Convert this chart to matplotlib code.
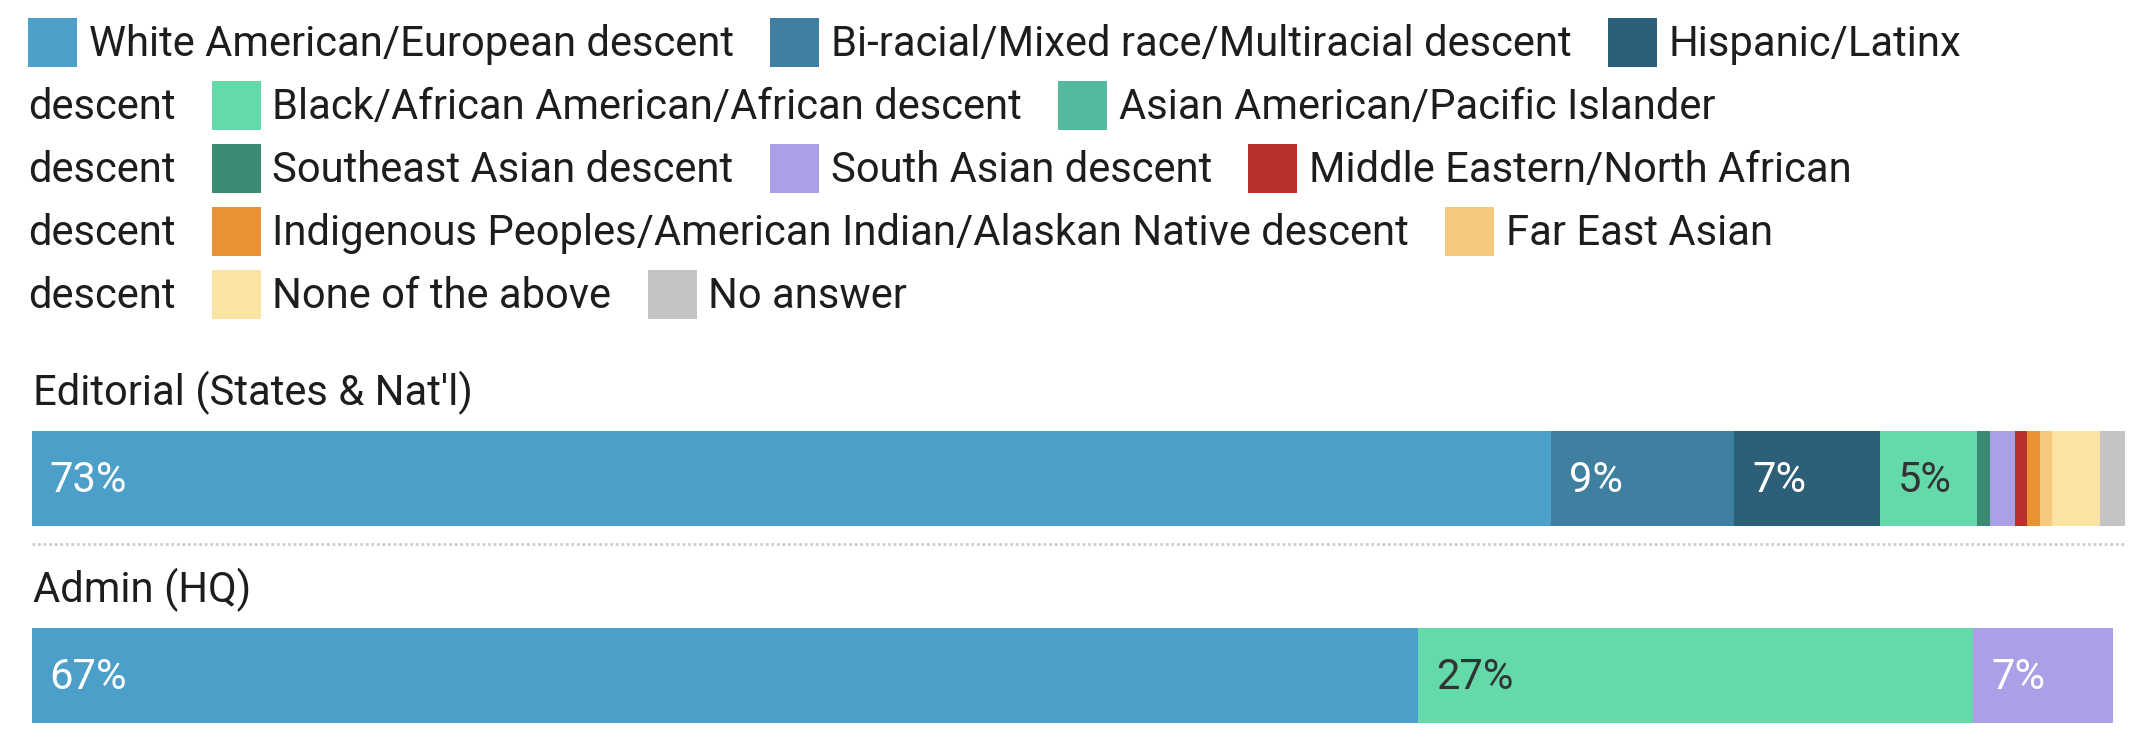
import matplotlib
matplotlib.use("Agg")
import matplotlib.pyplot as plt
from matplotlib.patches import Rectangle

plt.rcParams['font.family'] = ['Roboto', 'DejaVu Sans']

# data
categories = ["White American/European descent",
              "Bi-racial/Mixed race/Multiracial descent",
              "Hispanic/Latinx descent",
              "Black/African American/African descent",
              "Asian American/Pacific Islander descent",
              "Southeast Asian descent",
              "South Asian descent",
              "Middle Eastern/North African descent",
              "Indigenous Peoples/American Indian/Alaskan Native descent",
              "Far East Asian descent",
              "None of the above",
              "No answer"]
groups = ["Editorial (States & Nat'l)", "Admin (HQ)"]
editorial = [73.1, 8.8, 7.0, 4.7, 0.0, 0.6, 1.2, 0.6, 0.6, 0.6, 2.3, 1.2]
admin = [66.7, 0.0, 0.0, 26.7, 0.0, 0.0, 6.7, 0.0, 0.0, 0.0, 0.0, 0.0]

colors = ["#4b9fc9", "#3f7f9f", "#2e5f78", "#64d9aa", "#55b9a0", "#3b8b74",
          "#ab9fe8", "#b8322b", "#e99135", "#f6c980", "#fae3a3", "#c4c4c4"]
dark_label = {"#64d9aa", "#55b9a0", "#f6c980", "#fae3a3", "#c4c4c4"}
# where the html legend wrapped each label
legend_wrap = {2: 15, 4: 31, 7: 28, 9: 14}

W, H = 2144, 752
fig = plt.figure(figsize=(W / 100, H / 100), dpi=100)

# overlay in pixel units for legend & labels
over = fig.add_axes([0, 0, 1, 1])
over.set_xlim(0, W)
over.set_ylim(H, 0)
over.axis("off")

# bars axes
bx0, bx1 = 32, 2125
ax = fig.add_axes([bx0 / W, 0, (bx1 - bx0) / W, 1])
ax.set_ylim(H, 0)
total = max(sum(editorial), sum(admin))
ax.set_xlim(0, total)
ax.axis("off")

fs = 30.1
txt_col = "#1d1d1d"

# legend (flow layout)
fig.canvas.draw()
rend = fig.canvas.get_renderer()


def text_w(s):
    t = over.text(0, 0, s, fontsize=fs)
    bb = t.get_window_extent(rend)
    t.remove()
    return bb.width


x, row = 28, 0
base0, rowh = 56, 63
for i, (lab, c) in enumerate(zip(categories, colors)):
    by = base0 + row * rowh
    over.add_patch(Rectangle((x, by - 38), 49, 49, color=c, lw=0))
    x += 61
    if i in legend_wrap:
        first, rest = lab[:legend_wrap[i]], lab[legend_wrap[i]:].strip()
        over.text(x, by, first, fontsize=fs, color=txt_col, va="baseline")
        row += 1
        x = 28
        by = base0 + row * rowh
        over.text(x, by, rest, fontsize=fs, color=txt_col, va="baseline")
        x += text_w(rest) + 36
    else:
        over.text(x, by, lab, fontsize=fs, color=txt_col, va="baseline")
        x += text_w(lab) + 36

# bars
centers = [478.5, 675.5]
label_base = [405, 602]
for g, vals, yc, lb in zip(groups, [editorial, admin], centers, label_base):
    over.text(33, lb, g, fontsize=fs, color=txt_col, va="baseline")
    left = 0
    for v, c in zip(vals, colors):
        if v > 0:
            ax.barh(yc, v, left=left, height=95, color=c, lw=0)
            if v >= 4:
                ax.text(left + 0.85, yc + 2, f"{round(v)}%", fontsize=fs,
                        color="#333333" if c in dark_label else "white",
                        va="center", ha="left")
        left += v

over.plot([bx0, bx1], [544, 544], color="#cccccc", lw=2, ls=(0, (1, 1)))

fig.savefig("out.png", dpi=100)
